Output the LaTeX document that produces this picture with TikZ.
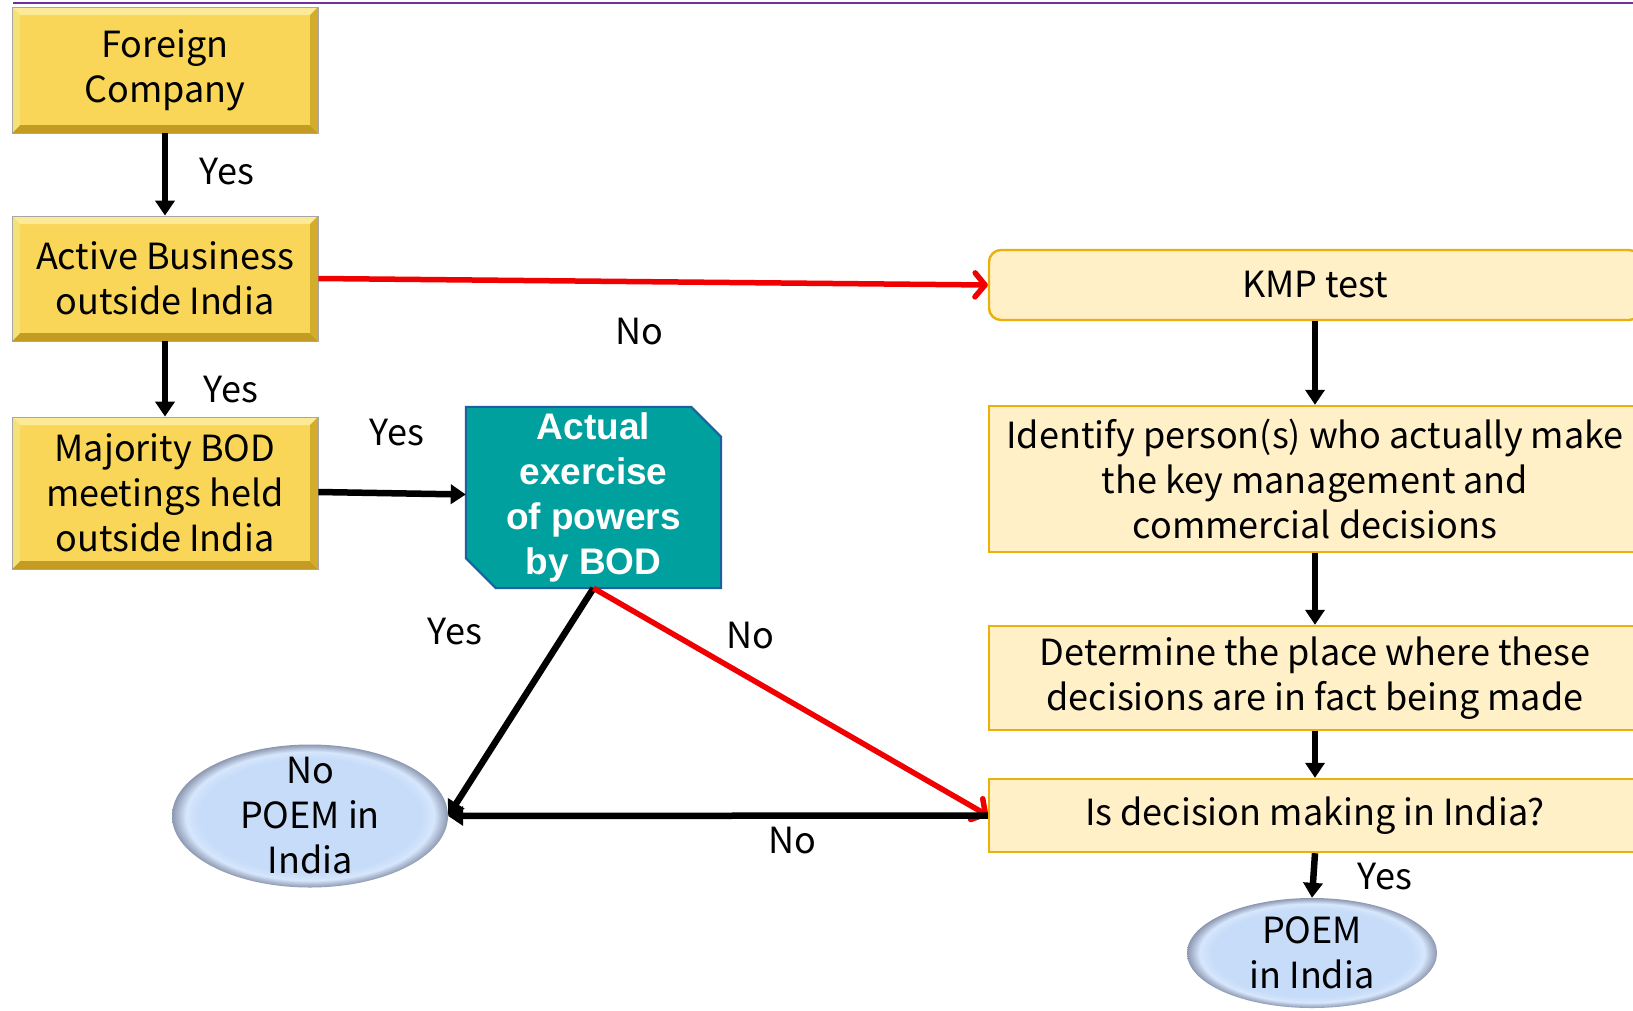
\documentclass[tikz,border=0pt]{standalone}
\usepackage{fontspec}
\setmainfont{Noto Sans CJK SC}
\newfontfamily\tealfont{Liberation Sans}
\usetikzlibrary{shapes.geometric,arrows.meta,calc,backgrounds}

\definecolor{goldmid}{RGB}{249,214,88}
\definecolor{goldtop}{RGB}{252,234,150}
\definecolor{goldleft}{RGB}{246,224,120}
\definecolor{goldright}{RGB}{212,172,44}
\definecolor{goldbot}{RGB}{196,156,36}
\definecolor{tealfill}{RGB}{0,160,158}
\definecolor{tealedge}{RGB}{28,96,160}
\definecolor{creamfill}{RGB}{255,240,200}
\definecolor{creamedge}{RGB}{236,176,10}
\definecolor{arrowred}{RGB}{240,0,0}
\definecolor{topline}{RGB}{112,48,160}
\definecolor{poemlight}{RGB}{198,220,249}
\definecolor{poemrim}{RGB}{214,230,252}
\definecolor{poemdark}{RGB}{140,152,176}

\pgfdeclareradialshading{poemshade}{\pgfpoint{0bp}{0bp}}{%
  color(0bp)=(poemlight); color(20bp)=(poemlight); color(22.5bp)=(poemrim);
  color(25bp)=(poemdark); color(50bp)=(poemdark)}

\tikzset{
  bodyfont/.style={font=\fontsize{36}{45}\selectfont},
  bevelbox/.style={bodyfont, align=center, inner sep=0pt,
    minimum width=306pt, draw=black!35, line width=0.8pt, fill=goldmid,
    path picture={
      \fill[goldtop] (path picture bounding box.north west) -- (path picture bounding box.north east)
        -- ([xshift=-8pt,yshift=-8pt]path picture bounding box.north east)
        -- ([xshift=8pt,yshift=-8pt]path picture bounding box.north west) -- cycle;
      \fill[goldbot] (path picture bounding box.south west) -- (path picture bounding box.south east)
        -- ([xshift=-8pt,yshift=8pt]path picture bounding box.south east)
        -- ([xshift=8pt,yshift=8pt]path picture bounding box.south west) -- cycle;
      \fill[goldleft] (path picture bounding box.north west)
        -- ([xshift=8pt,yshift=-8pt]path picture bounding box.north west)
        -- ([xshift=8pt,yshift=8pt]path picture bounding box.south west)
        -- (path picture bounding box.south west) -- cycle;
      \fill[goldright] (path picture bounding box.north east)
        -- ([xshift=-8pt,yshift=-8pt]path picture bounding box.north east)
        -- ([xshift=-8pt,yshift=8pt]path picture bounding box.south east)
        -- (path picture bounding box.south east) -- cycle;
    }},
  tealbox/.style={rectangle, text=white, align=center,
    font=\tealfont\bfseries\fontsize{37}{45}\selectfont,
    minimum width=255pt, minimum height=185pt, inner sep=0pt},
  tealshape/.style={fill=tealfill, draw=tealedge, line width=2pt, line join=miter},
  creambox/.style={bodyfont, align=center, fill=creamfill, draw=creamedge,
    line width=2.4pt, minimum width=652pt, inner sep=0pt},
  bubble/.style={ellipse, shading=poemshade, inner sep=0pt},
  bubbletext/.style={align=center, bodyfont},
  tag/.style={bodyfont, inner sep=0pt},
  blackarrow/.style={line width=6.5pt, -{Triangle[length=15pt,width=19pt]}},
  redarrow/.style={draw=arrowred, line width=5.5pt, -{Straight Barb[length=10pt,width=24pt,round]}},
}

\begin{document}
\begin{tikzpicture}[x={(1pt,0pt)}, y={(0pt,-1pt)}]
\useasboundingbox (0,0) rectangle (1633,1010);

% rule across the top
\draw[topline, line width=1.5pt] (13,3) -- (1640,3);

% left column of tests
\node[bevelbox, minimum height=126pt] (foreign) at (165,70) {Foreign\\Company};
\node[bevelbox, minimum height=125pt] (active) at (165,278.5) {Active Business\\outside India};
\node[bevelbox, minimum height=152pt] (board) at (165,493) {Majority BOD\\meetings held\\outside India};

% board powers test: text node, with its chamfered outline behind it
\node[tealbox] (powers) at (593.5,497.5) {Actual\\exercise\\of powers\\by BOD};
\begin{scope}[on background layer]
  \fill[white] (0,0) rectangle (1633,1010);
  \filldraw[tealshape] ([xshift=30pt,yshift=2pt]powers.south west) -- ([yshift=32pt]powers.south west)
    -- ([yshift=-2pt]powers.north west) -- ([xshift=-30pt,yshift=-2pt]powers.north east)
    -- ([yshift=-32pt]powers.north east) -- ([yshift=2pt]powers.south east) -- cycle;
\end{scope}

% KMP column
\node[creambox, rounded corners=12pt, minimum height=70pt] (kmp) at (1315,285) {KMP test};
\node[creambox, minimum height=146pt] (identify) at (1315,479) {Identify person(s) who actually make\\the key management and\\commercial decisions};
\node[creambox, minimum height=104pt] (place) at (1315,678) {Determine the place where these\\decisions are in fact being made};
\node[creambox, minimum height=73pt] (india) at (1315,815.5) {Is decision making in India?};

% outcomes
\node[bubble, minimum width=276pt, minimum height=143pt,
  label={[bubbletext]center:No\\POEM in\\India}] (nopoem) at (310,816) {};
\node[bubble, minimum width=250pt, minimum height=110pt,
  label={[bubbletext]center:POEM\\in India}] (poem) at (1312,953) {};

% connectors
\draw[blackarrow] (foreign.south) -- (active.north);
\draw[blackarrow] (active.south) -- (board.north);
\draw[blackarrow] ([yshift=1pt]board.east) -- ([yshift=3pt]powers.west);
\draw[redarrow] (active.east) -- (kmp.west);
\draw[blackarrow] ([yshift=2pt]powers.south) -- (nopoem.east);
\draw[redarrow] ([yshift=2pt]powers.south) -- (india.west);
\draw[blackarrow] (india.west) -- (nopoem.east);
\draw[blackarrow] (kmp.south) -- (identify.north);
\draw[blackarrow] (identify.south) -- (place.north);
\draw[blackarrow] (place.south) -- (india.north);
\draw[blackarrow] (india.south) -- (poem.north);

% connector labels
\node[tag] (t1) at (227,172) {Yes};
\node[tag] (t2) at (231,390) {Yes};
\node[tag] (t3) at (397,433) {Yes};
\node[tag] (t4) at (639,332) {No};
\node[tag] (t5) at (455,632) {Yes};
\node[tag] (t6) at (750,636) {No};
\node[tag] (t7) at (792,841) {No};
\node[tag] (t8) at (1385,877) {Yes};
\end{tikzpicture}
\end{document}
